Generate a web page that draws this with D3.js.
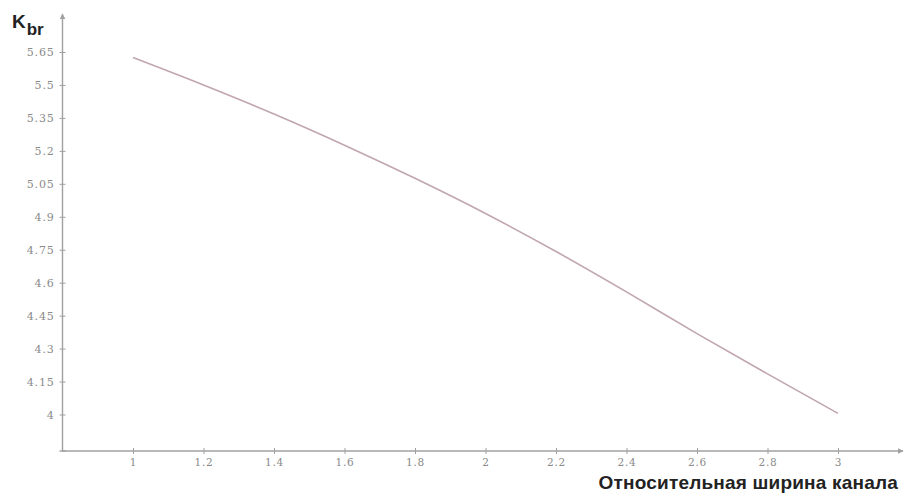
<!DOCTYPE html>
<html>
<head>
<meta charset="utf-8">
<script src="https://cdn.jsdelivr.net/npm/d3@7"></script>
<style>
  html, body { margin: 0; padding: 0; background: #fff; }
  svg { display: block; }
</style>
</head>
<body>
<svg id="chart" width="906" height="493"></svg>
<script>
// Relative channel width and the corresponding K_br coefficient
const widths = [1.0, 1.2, 1.4, 1.6, 1.8, 2.0, 2.2, 2.4, 2.6, 2.8, 3.0];
const kbr    = [5.625, 5.500, 5.368, 5.226, 5.075, 4.915, 4.742, 4.558, 4.368, 4.185, 4.005];

const xTicks = [1, 1.2, 1.4, 1.6, 1.8, 2, 2.2, 2.4, 2.6, 2.8, 3];
const xTickLabels = ["1", "1.2", "1.4", "1.6", "1.8", "2", "2.2", "2.4", "2.6", "2.8", "3"];
const yTicks = [4, 4.15, 4.3, 4.45, 4.6, 4.75, 4.9, 5.05, 5.2, 5.35, 5.5, 5.65];
const yTickLabels = ["4", "4.15", "4.3", "4.45", "4.6", "4.75", "4.9", "5.05", "5.2", "5.35", "5.5", "5.65"];

const svg = d3.select("#chart");
const axisColor = "#a0a0a0";
const labelColor = "#8a8a8a";

const x = d3.scaleLinear().domain([0.8, 3]).range([62.5, 838]);
const y = d3.scaleLinear().domain([4, 5.65]).range([414.5, 52]);

const x0 = x(0.8);
const y0 = 451;          // where the horizontal axis sits
const xEnd = 903;        // arrow tip of the horizontal axis
const yTop = 14;         // arrow tip of the vertical axis

// arrowheads
const defs = svg.append("defs");
defs.append("marker")
  .attr("id", "arrow")
  .attr("viewBox", "0 0 10 10")
  .attr("refX", 9).attr("refY", 5)
  .attr("markerWidth", 6).attr("markerHeight", 6)
  .attr("markerUnits", "userSpaceOnUse")
  .attr("orient", "auto")
  .append("path")
  .attr("d", "M0,0 L10,5 L0,10 z")
  .attr("fill", axisColor);

// vertical axis
svg.append("line")
  .attr("x1", x0).attr("y1", y0)
  .attr("x2", x0).attr("y2", yTop)
  .attr("stroke", axisColor).attr("stroke-width", 1.4)
  .attr("marker-end", "url(#arrow)");

// horizontal axis
svg.append("line")
  .attr("x1", x0).attr("y1", y0)
  .attr("x2", xEnd).attr("y2", y0)
  .attr("stroke", axisColor).attr("stroke-width", 1.4)
  .attr("marker-end", "url(#arrow)");

const tickFont = "'DejaVu Serif', 'Liberation Serif', serif";

// y ticks (crossing the axis) and labels
const yAxis = d3.axisLeft(y)
  .tickValues(yTicks)
  .tickSize(3)
  .tickPadding(5)
  .tickFormat((d, i) => yTickLabels[i]);

const gy = svg.append("g")
  .attr("transform", `translate(${x0},0)`)
  .call(yAxis);
gy.select(".domain").remove();
gy.selectAll(".tick line").attr("stroke", axisColor).attr("x1", 3).attr("x2", -3);
gy.selectAll(".tick text")
  .attr("fill", labelColor)
  .attr("font-family", tickFont)
  .attr("font-size", 11)
  .attr("letter-spacing", 0.8);

// x ticks (crossing the axis) and labels
const xAxis = d3.axisBottom(x)
  .tickValues(xTicks)
  .tickSize(3)
  .tickPadding(5)
  .tickFormat((d, i) => xTickLabels[i]);

const gx = svg.append("g")
  .attr("transform", `translate(0,${y0})`)
  .call(xAxis);
gx.select(".domain").remove();
gx.selectAll(".tick line").attr("stroke", axisColor).attr("y1", -3).attr("y2", 3);
gx.selectAll(".tick text")
  .attr("fill", labelColor)
  .attr("font-family", tickFont)
  .attr("font-size", 10.5)
  .attr("letter-spacing", 0.8);

// small mark at the origin
svg.append("line")
  .attr("x1", x0 - 3).attr("x2", x0 + 3)
  .attr("y1", y0).attr("y2", y0)
  .attr("stroke", axisColor).attr("stroke-width", 1.4);

// curve
const line = d3.line()
  .x((d, i) => x(widths[i]))
  .y(d => y(d))
  .curve(d3.curveMonotoneX);

svg.append("path")
  .datum(kbr)
  .attr("d", line)
  .attr("fill", "none")
  .attr("stroke", "#c0a6ae")
  .attr("stroke-width", 1.6);

// axis titles
const kLabel = svg.append("text")
  .attr("x", 12).attr("y", 28)
  .attr("font-family", "'Liberation Sans', Arial, sans-serif")
  .attr("font-weight", "bold")
  .attr("fill", "#222");
kLabel.append("tspan").attr("font-size", 19).text("K");
kLabel.append("tspan").attr("font-size", 17).attr("dx", 1).attr("dy", 7).text("br");

svg.append("text")
  .attr("x", 898).attr("y", 488.5)
  .attr("text-anchor", "end")
  .attr("font-family", "'Liberation Sans', Arial, sans-serif")
  .attr("font-weight", "bold")
  .attr("font-size", 19)
  .attr("letter-spacing", 0.2)
  .attr("fill", "#222")
  .text("Относительная ширина канала");
</script>
</body>
</html>
